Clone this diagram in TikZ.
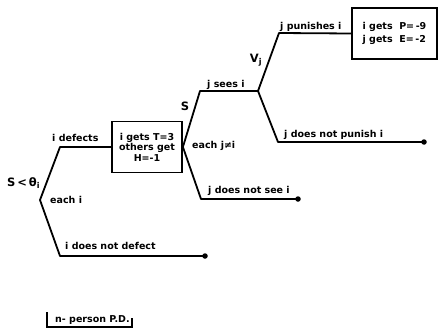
\documentclass[tikz,border=0pt]{standalone}
\usepackage{fontspec}
\setmainfont{DejaVu Sans}
\begin{document}
\begin{tikzpicture}[x=1pt,y=-1pt,
  br/.style={line width=1.8pt,line join=round},
  lbl/.style={font=\bfseries\fontsize{9.5}{10}\selectfont,inner sep=0pt},
  biglbl/.style={font=\bfseries\fontsize{11.5}{12}\selectfont,inner sep=0pt},
  pay/.style={draw,line width=1.8pt,font=\bfseries\fontsize{9.5}{10.5}\selectfont,align=center,inner sep=1pt},
  enddot/.style={circle,fill,inner sep=0pt,minimum size=5.5pt}]
\useasboundingbox (0,0) rectangle (439,332);
% first choice
\coordinate (n1) at (40,200);
\coordinate (a1) at (60,147);
\coordinate (b1) at (60,256);
\node[enddot] (e1) at (205,256) {};
\node[pay,minimum width=70pt,minimum height=51pt] (box1) at (147,147)
  {i gets T=3\\others get\\H=-1};
\draw[br] (box1.west) -- (a1) -- (n1) -- (b1) -- (e1.center);
\node[lbl,anchor=base west] (t1) at (52,141) {i defects};
\node[biglbl,anchor=west] (t2) at (7,183) {S\,<\,θ\textsubscript{i}};
\node[lbl,anchor=west] (t3) at (50,200) {each i};
\node[lbl,anchor=base west] (t4) at (65,249) {i does not defect};
% second choice
\coordinate (n2) at (box1.east);
\coordinate (a2) at (200,91);
\coordinate (n3) at (258,91);
\coordinate (b2) at (201,199);
\node[enddot] (e2) at (298,199) {};
\draw[br] (n3) -- (a2) -- (n2) -- (b2) -- (e2.center);
\node[biglbl,anchor=center] (t5) at (185,106) {S};
\node[lbl,anchor=west] (t6) at (192,146) {each j≠i};
\node[lbl,anchor=base west] (t7) at (208,193) {j does not see i};
\node[lbl,anchor=base west] (t8) at (207,87) {j sees i};
% third choice
\coordinate (a3) at (279,33);
\coordinate (b3) at (278,142);
\node[enddot] (e3) at (424,142) {};
\node[pay,minimum width=85pt,minimum height=51pt,align=left] (box3) at (394.5,33.5)
  {i gets\ \ P=\,-9\\[3pt]j gets\ \ E=\,-2};
\draw[br] (box3.west) -- (a3) -- (n3) -- (b3) -- (e3.center);
\node[biglbl,anchor=center] (t9) at (256,60) {V\textsubscript{j}};
\node[lbl,anchor=base west] (t10) at (280,29) {j punishes i};
\node[lbl,anchor=base west] (t11) at (284,137) {j does not punish i};
% label box
\node[lbl,anchor=base west] (t12) at (55,322) {n- person P.D.};
\coordinate (c1) at (47,312);
\coordinate (c2) at (47,327);
\coordinate (c3) at (132,327);
\coordinate (c4) at (132,318);
\draw[line width=1.4pt] (c1) -- (c2) -- (c3) -- (c4);
\end{tikzpicture}
\end{document}
